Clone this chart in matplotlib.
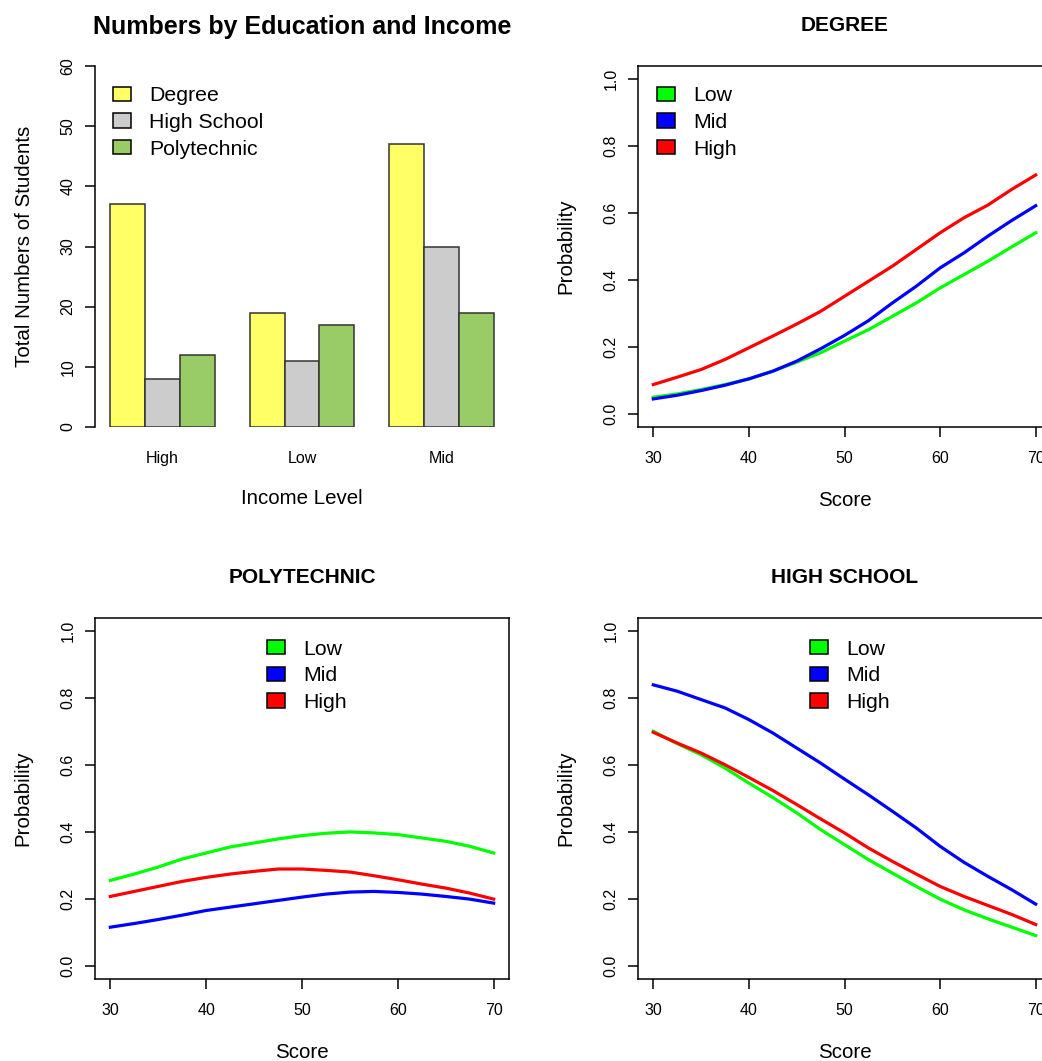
import numpy as np
import matplotlib
matplotlib.use("Agg")
import matplotlib.pyplot as plt
from matplotlib.patches import Patch

plt.rcParams['font.family'] = ['Liberation Sans', 'DejaVu Sans']

# bar chart data
income = ['High', 'Low', 'Mid']
edu = ['Degree', 'High School', 'Polytechnic']
degree_n = [37, 19, 47]
highschool_n = [8, 11, 30]
poly_n = [12, 17, 19]
bar_cols = ['#FFFF66', '#CCCCCC', '#99CC66']

# predicted probabilities by score
score = [30, 32.5, 35, 37.5, 40, 42.5, 45, 47.5, 50, 52.5, 55, 57.5, 60, 62.5, 65, 67.5, 70]
deg_low = [0.049, 0.059, 0.072, 0.087, 0.104, 0.127, 0.154, 0.182, 0.217, 0.251, 0.291,
           0.331, 0.376, 0.416, 0.456, 0.499, 0.541]
deg_mid = [0.044, 0.055, 0.069, 0.085, 0.104, 0.127, 0.157, 0.194, 0.234, 0.278, 0.331,
           0.381, 0.436, 0.481, 0.531, 0.578, 0.622]
deg_high = [0.087, 0.109, 0.132, 0.162, 0.197, 0.232, 0.268, 0.306, 0.351, 0.396, 0.441,
            0.491, 0.541, 0.586, 0.624, 0.671, 0.714]
pol_low = [0.255, 0.274, 0.295, 0.319, 0.337, 0.355, 0.367, 0.379, 0.389, 0.396, 0.400,
           0.397, 0.392, 0.382, 0.372, 0.357, 0.337]
pol_mid = [0.115, 0.126, 0.138, 0.151, 0.165, 0.175, 0.185, 0.195, 0.205, 0.214, 0.220,
           0.222, 0.219, 0.214, 0.207, 0.199, 0.187]
pol_high = [0.207, 0.222, 0.237, 0.252, 0.264, 0.274, 0.282, 0.289, 0.289, 0.285, 0.280,
            0.269, 0.257, 0.244, 0.232, 0.217, 0.199]
hs_low = [0.701, 0.664, 0.631, 0.591, 0.546, 0.503, 0.457, 0.407, 0.362, 0.317, 0.277,
          0.237, 0.199, 0.167, 0.140, 0.115, 0.090]
hs_mid = [0.840, 0.821, 0.796, 0.771, 0.736, 0.696, 0.651, 0.606, 0.558, 0.511, 0.462,
          0.412, 0.357, 0.309, 0.267, 0.227, 0.184]
hs_high = [0.698, 0.666, 0.636, 0.601, 0.563, 0.524, 0.482, 0.439, 0.397, 0.352, 0.312,
           0.274, 0.237, 0.207, 0.180, 0.153, 0.123]

lvl_names = ['Low', 'Mid', 'High']
lvl_cols = ['#00FF00', '#0000FF', '#FF0000']

W, H = 1042, 1061
fig = plt.figure(figsize=(W / 100, H / 100), dpi=100)

def box(x0, y0, x1, y1):
    return [x0 / W, 1 - y1 / H, (x1 - x0) / W, (y1 - y0) / H]

TICK_FS = 11.5
LAB_FS = 14.8
LEG_FS = 15.3

def style_ticks(ax):
    ax.tick_params(axis='both', length=7, width=1.1, labelsize=TICK_FS, colors='black')
    ax.tick_params(axis='x', pad=10)
    ax.tick_params(axis='y', pad=7)
    for lab in ax.get_yticklabels():
        lab.set_rotation(90)
        lab.set_va('center')

def add_legend(ax, names, cols, x, y):
    hs = [Patch(facecolor=c, edgecolor='black', linewidth=1.1) for c in cols]
    ax.legend(hs, names, loc='upper left', bbox_to_anchor=(x, y), frameon=False,
              fontsize=LEG_FS, handlelength=0.85, handleheight=0.66,
              handletextpad=0.85, labelspacing=0.36, borderpad=0, borderaxespad=0)

# ---- bar chart ----
ax = fig.add_axes(box(95, 66, 509, 427))
series = [degree_n, highschool_n, poly_n]
grp = np.arange(len(income)) * 4
for i, vals in enumerate(series):
    ax.bar(grp + 1.5 + i, vals, width=1.0, color=bar_cols[i], edgecolor='#333333',
           linewidth=1.1)
ax.set_xlim(0.56, 12.44)
ax.set_ylim(0, 60)
ax.set_xticks(grp + 2.5)
ax.set_xticklabels(income)
ax.set_yticks(range(0, 61, 10))
for s in ['top', 'right', 'bottom']:
    ax.spines[s].set_visible(False)
ax.spines['left'].set_bounds(0, 60)
ax.spines['left'].set_linewidth(1.1)
style_ticks(ax)
ax.tick_params(axis='x', length=0, pad=17)
ax.set_xlabel('Income Level', fontsize=LAB_FS, labelpad=17)
ax.set_ylabel('Total Numbers of Students', fontsize=LAB_FS, labelpad=19)
ax.set_title('Numbers by Education and Income', fontsize=18, fontweight='bold', pad=23)
add_legend(ax, edu, bar_cols, 0.044, 0.944)

# ---- probability panels ----
panels = [
    ('DEGREE', box(638, 66, 1051, 427), [deg_low, deg_mid, deg_high], (0.046, 0.944)),
    ('POLYTECHNIC', box(95, 618, 509, 979), [pol_low, pol_mid, pol_high], (0.415, 0.94)),
    ('HIGH SCHOOL', box(638, 618, 1051, 979), [hs_low, hs_mid, hs_high], (0.4165, 0.94)),
]
for title, pos, curves, lpos in panels:
    ax = fig.add_axes(pos)
    for vals, c in zip(curves, lvl_cols):
        ax.plot(score, vals, color=c, linewidth=2.3)
    ax.set_xlim(28.4, 71.6)
    ax.set_ylim(-0.04, 1.04)
    ax.set_xticks(range(30, 71, 10))
    ax.set_yticks([0.0, 0.2, 0.4, 0.6, 0.8, 1.0])
    ax.set_yticklabels(['0.0', '0.2', '0.4', '0.6', '0.8', '1.0'])
    for s in ax.spines.values():
        s.set_linewidth(1.1)
    style_ticks(ax)
    ax.set_xlabel('Score', fontsize=LAB_FS, labelpad=18)
    ax.set_ylabel('Probability', fontsize=LAB_FS, labelpad=20)
    ax.set_title(title, fontsize=15, fontweight='bold', pad=25)
    add_legend(ax, lvl_names, lvl_cols, lpos[0], lpos[1])

fig.savefig('out.png', dpi=100)
